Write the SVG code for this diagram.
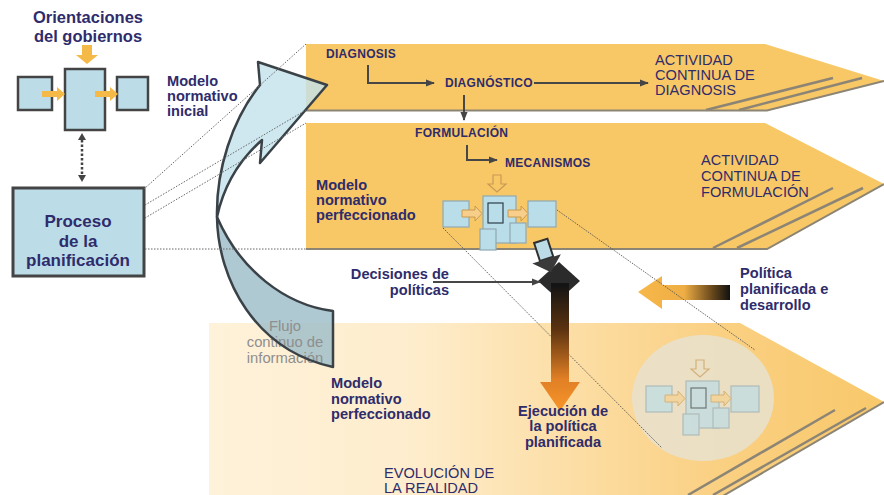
<svg xmlns="http://www.w3.org/2000/svg" width="884" height="495" viewBox="0 0 884 495">
<style>
.t{font-family:"Liberation Sans",Arial,sans-serif;fill:#2F2C6B}
.b{font-weight:bold}
.f15{font-size:14.6px}
.f17{font-size:17px}
.f16{font-size:16.5px}
.cap{font-size:12px;font-weight:bold;letter-spacing:0.3px}
.band{fill:#F8C766}
.edge{fill:none;stroke:#8C8575;stroke-width:2}
.stripe{fill:none;stroke:#8C8575;stroke-width:2.5}
.box{fill:#BCDDE8;stroke:#444;stroke-width:2.5}
.mbox{fill:#B9DDE9;stroke:#8FA9B3;stroke-width:1.2}
.marr{fill:#F7CF8A;stroke:#C99A50;stroke-width:1}
.orr{fill:#F5B947}
.dot{fill:none;stroke:#666;stroke-width:1;stroke-dasharray:1.5 1.5}
.conn{fill:none;stroke:#474747;stroke-width:2}
.gray{fill:#8E8E8E;font-size:14.8px}
</style>
<defs>
<marker id="ah" viewBox="0 0 10 10" refX="9" refY="5" markerWidth="9" markerHeight="9" markerUnits="userSpaceOnUse" orient="auto">
<path d="M0,1 L10,5 L0,9 Z" fill="#454545"/>
</marker>
<linearGradient id="g3" gradientUnits="userSpaceOnUse" x1="209" y1="0" x2="884" y2="0">
<stop offset="0" stop-color="#FEF2DA"/>
<stop offset="0.3" stop-color="#FEEDCD"/>
<stop offset="0.55" stop-color="#FCDDA3"/>
<stop offset="0.75" stop-color="#FAD083"/>
<stop offset="1" stop-color="#F8C86A"/>
</linearGradient>
<linearGradient id="gv" gradientUnits="userSpaceOnUse" x1="0" y1="285" x2="0" y2="410">
<stop offset="0" stop-color="#141414"/>
<stop offset="0.35" stop-color="#5A3210"/>
<stop offset="0.75" stop-color="#E07F25"/>
<stop offset="1" stop-color="#F7952A"/>
</linearGradient>
<linearGradient id="gh" gradientUnits="userSpaceOnUse" x1="638" y1="0" x2="730" y2="0">
<stop offset="0" stop-color="#F7B84A"/>
<stop offset="0.5" stop-color="#EFAE45"/>
<stop offset="0.8" stop-color="#6B4A1C"/>
<stop offset="1" stop-color="#111"/>
</linearGradient>
<g id="mech">
<path d="M493,175 H501 V184 H506 L497,192 L488,184 H493 Z" fill="none" stroke="#C99A55" stroke-width="1.2"/>
<rect class="mbox" x="443" y="201" width="26" height="26"/>
<rect class="mbox" x="483" y="196" width="33" height="47"/>
<rect x="488" y="203" width="15" height="20" fill="#B9DDE9" stroke="#2E3E48" stroke-width="1.2"/>
<rect class="mbox" x="528" y="201" width="28" height="26"/>
<path class="marr" d="M462,210 H475 V206 L482,213.5 L475,221 V217 H462 Z"/>
<path class="marr" d="M508,210 H521 V206 L528,213.5 L521,221 V217 H508 Z"/>
<rect class="mbox" x="480" y="229" width="16" height="21"/>
<rect class="mbox" x="510" y="223" width="16" height="20"/>
</g>
</defs>

<g id="band-evolucion">
<path d="M209,323 H740 L884,402 L716,500 H209 Z" fill="url(#g3)"/>
<path class="edge" d="M884,402 L716,500"/>
<path class="stripe" d="M688,495 L835,410"/>
<path class="stripe" d="M713,495 L866,408"/>
</g>

<g id="band-diagnosis">
<path class="band" d="M306,44 H765 L884,81 L767,111 H306 Z"/>
<path class="edge" d="M306,110.5 H767 L884,81"/>
<text class="t f15" x="655" y="65">ACTIVIDAD</text>
<text class="t f15" x="655" y="80">CONTINUA DE</text>
<text class="t f15" x="655" y="95">DIAGNOSIS</text>
<path class="stripe" d="M706,110 L833,78"/>
<path class="stripe" d="M739,110 L862,78"/>
<text class="t cap" x="326" y="58">DIAGNOSIS</text>
<text class="t cap" x="445" y="87">DIAGNÓSTICO</text>
</g>

<g id="band-formulacion">
<path class="band" d="M306,123 H765 L884,184 L767,250 H306 Z"/>
<path class="edge" d="M306,249 H767 L884,184"/>
<text class="t f15" x="701" y="165">ACTIVIDAD</text>
<text class="t f15" x="701" y="181">CONTINUA DE</text>
<text class="t f15" x="701" y="197">FORMULACIÓN</text>
<path class="stripe" d="M713,248 L833,188"/>
<path class="stripe" d="M737,248 L863,188"/>
<text class="t cap" x="415" y="137">FORMULACIÓN</text>
<text class="t cap" x="505" y="167">MECANISMOS</text>
<text class="t b f15" x="316" y="190">Modelo</text>
<text class="t b f15" x="316" y="205">normativo</text>
<text class="t b f15" x="316" y="220">perfeccionado</text>
</g>

<g id="circulo">
<ellipse cx="703" cy="398" rx="71" ry="63" fill="#E8E2CF" opacity="0.85"/>
<use href="#mech" transform="translate(203,185)" opacity="0.65"/>
</g>

<g id="flujo">
<path d="M217,217 C218,280 255,350 333,367 L333,311 C285,305 240,270 217,217 Z" fill="#9BBCC8" fill-opacity="0.8"/>
<text class="t gray" x="285" y="331" text-anchor="middle">Flujo</text>
<text class="t gray" x="285" y="347" text-anchor="middle">continuo de</text>
<text class="t gray" x="285" y="363" text-anchor="middle">información</text>
<path d="M217,217 C218,280 255,350 333,367 L333,311 C285,305 240,270 217,217 Z" fill="none" stroke="#3A4248" stroke-width="2.5" stroke-linejoin="round"/>
<path d="M217,217 C216,170 232,120 260,85 L258,62 L327,85 L260,163 L262,140 C245,155 225,180 217,217 Z" fill="#C3E2EC" fill-opacity="0.8" stroke="#3A4248" stroke-width="2.5" stroke-linejoin="round"/>
</g>

<g id="orientaciones">
<text class="t b f16" x="88" y="23" text-anchor="middle">Orientaciones</text>
<text class="t b f16" x="88" y="42" text-anchor="middle">del gobiernos</text>
<path class="orr" d="M82,45 H92 V55 H98 L87,64 L76,55 H82 Z"/>
</g>

<g id="modelo-inicial">
<rect class="box" x="18" y="77" width="34" height="33"/>
<rect class="box" x="65" y="69" width="40" height="61"/>
<rect class="box" x="117" y="77" width="31" height="33"/>
<path class="orr" d="M42,91 H57 V87 L65,94 L57,101 V97 H42 Z"/>
<path class="orr" d="M95,91 H110 V87 L118,94 L110,101 V97 H95 Z"/>
<text class="t b f15" x="167" y="86">Modelo</text>
<text class="t b f15" x="167" y="101">normativo</text>
<text class="t b f15" x="167" y="116">inicial</text>
</g>

<g id="proceso">
<rect x="13" y="188" width="131" height="88" fill="#BCDDE8" stroke="#444" stroke-width="3"/>
<text class="t b f17" x="78" y="227" text-anchor="middle">Proceso</text>
<text class="t b f17" x="78" y="247" text-anchor="middle">de la</text>
<text class="t b f17" x="78" y="266" text-anchor="middle">planificación</text>
</g>

<g id="connectors">
<path d="M82,140 V175" fill="none" stroke="#444" stroke-width="2.5" stroke-dasharray="2.5 2"/>
<path d="M78,140 L86,140 L82,133 Z" fill="#444"/>
<path d="M78,175 L86,175 L82,182 Z" fill="#444"/>
<path class="dot" d="M144,189 L306,44"/>
<path class="dot" d="M145,205 L306,110"/>
<path class="dot" d="M145,218 L306,123"/>
<path class="dot" d="M145,249 L306,249"/>
<path class="conn" d="M368,65 V83 H434" marker-end="url(#ah)"/>
<path class="conn" d="M534,83 H648" marker-end="url(#ah)"/>
<path class="conn" d="M464,95 V120" marker-end="url(#ah)"/>
<path class="conn" d="M467,145 V160 H497" marker-end="url(#ah)"/>
</g>

<g id="mecanismos">
<use href="#mech"/>
</g>

<g id="politica">
<path d="M638,292 L662,276 V285 H730 V300 H662 V309 Z" fill="url(#gh)"/>
<text class="t b f15" x="740" y="278">Política</text>
<text class="t b f15" x="740" y="294">planificada e</text>
<text class="t b f15" x="740" y="310">desarrollo</text>
</g>

<g id="proyeccion">
<path d="M443,228 L662,448" fill="none" stroke="#555" stroke-width="0.9" stroke-dasharray="1.5 1.2"/>
<path d="M557,210 L755,350" fill="none" stroke="#555" stroke-width="0.9" stroke-dasharray="1.5 1.2"/>
</g>

<g id="decisiones">
<path d="M559,262 L580,281 L559,300 L538,281 Z" fill="#2B2B2B"/>
<g transform="rotate(-18 546 257)">
<rect x="539" y="240" width="14" height="19" fill="#BCDDE8" stroke="#303030" stroke-width="2"/>
<path d="M531,259 H561 L546,273 Z" fill="#3A3A3A"/>
</g>
<path class="conn" d="M433,282 H540" marker-end="url(#ah)"/>
<text class="t b f15" x="449" y="279" text-anchor="end">Decisiones de</text>
<text class="t b f15" x="449" y="295" text-anchor="end">políticas</text>
</g>

<g id="ejecucion">
<path d="M551,283 H569 V382 H580 L560,411 L540,382 H551 Z" fill="url(#gv)"/>
<text class="t b f15" x="563" y="416" text-anchor="middle">Ejecución de</text>
<text class="t b f15" x="563" y="431" text-anchor="middle">la política</text>
<text class="t b f15" x="563" y="447" text-anchor="middle">planificada</text>
</g>

<g id="modelo-perfeccionado">
<text class="t b f15" x="331" y="388">Modelo</text>
<text class="t b f15" x="331" y="404">normativo</text>
<text class="t b f15" x="331" y="419">perfeccionado</text>
</g>

<g id="evolucion">
<text class="t f15" x="384" y="478">EVOLUCIÓN DE</text>
<text class="t f15" x="384" y="493">LA REALIDAD</text>
</g>
</svg>
